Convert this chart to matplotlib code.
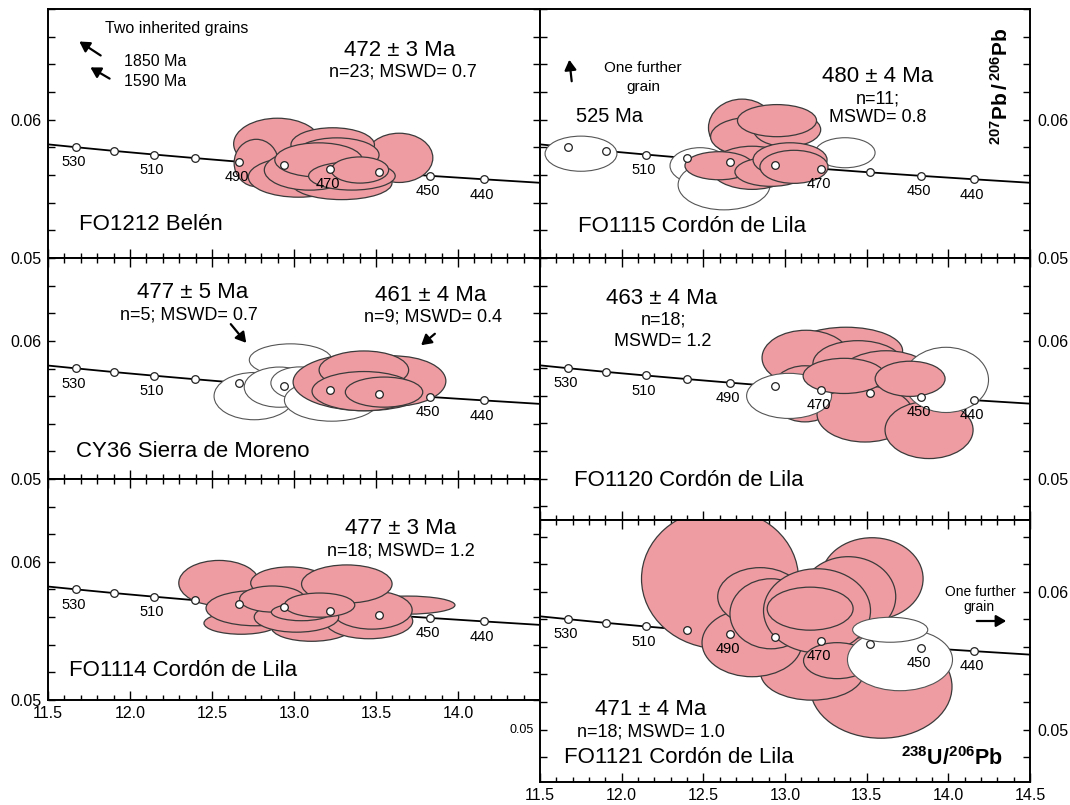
import matplotlib
matplotlib.use("Agg")
from matplotlib import pyplot as plt
from matplotlib.patches import Ellipse, FancyArrowPatch
from matplotlib.ticker import MultipleLocator, FuncFormatter

plt.rcParams['font.family'] = ['Liberation Sans', 'DejaVu Sans']
plt.rcParams['mathtext.fontset'] = 'custom'
plt.rcParams['mathtext.rm'] = 'Liberation Sans'
plt.rcParams['mathtext.bf'] = 'Liberation Sans:bold'

# ------------------------------------------------------------------
# Concordia (ages in Ma, 238U/206Pb, 207Pb/206Pb)
# ------------------------------------------------------------------
conc_age = [540, 530, 520, 510, 500, 490, 480, 470, 460, 450, 440, 430, 420]
conc_x = [11.445, 11.670, 11.904, 12.147, 12.399, 12.662, 12.936, 13.222,
          13.520, 13.831, 14.157, 14.497, 14.854]
conc_y = [0.05828, 0.05801, 0.05774, 0.05748, 0.05722, 0.05696, 0.05670,
          0.05645, 0.05619, 0.05594, 0.05569, 0.05544, 0.05519]
dot_ages = [530, 520, 510, 500, 490, 480, 470, 460, 450, 440]

# ------------------------------------------------------------------
# Error ellipses per sample: centre x, centre y, width, height, kind
# kind: 'p' = used in the age (pink), 'w' = rejected (white); drawn in order
# ------------------------------------------------------------------
# FO1212 Belén
fo1212_x = [12.899, 13.641, 12.770, 13.028, 13.291, 13.095, 13.236, 13.261, 13.150, 13.353, 13.402]
fo1212_y = [0.05825, 0.05724, 0.05687, 0.05585, 0.05542, 0.05636, 0.05818, 0.05745, 0.05709, 0.05593, 0.05636]
fo1212_w = [0.534, 0.411, 0.270, 0.613, 0.613, 0.552, 0.509, 0.515, 0.534, 0.528, 0.350]
fo1212_h = [0.00371, 0.00356, 0.00342, 0.00291, 0.00240, 0.00291, 0.00247, 0.00247, 0.00247, 0.00204, 0.00189]
fo1212_k = ['p'] * 11
fo1212_lab = [530, 510, 490, 470, 450, 440]

# FO1115 Cordón de Lila
fo1115_x = [11.751, 12.480, 12.627, 13.368, 12.737, 12.799, 13.013, 12.951, 12.799, 12.596, 12.914, 13.031, 13.055]
fo1115_y = [0.05754, 0.05667, 0.05529, 0.05761, 0.05942, 0.05877, 0.05928, 0.05993, 0.05652, 0.05667, 0.05623, 0.05710, 0.05659]
fo1115_w = [0.440, 0.368, 0.563, 0.367, 0.411, 0.509, 0.411, 0.484, 0.509, 0.417, 0.441, 0.453, 0.417]
fo1115_h = [0.00254, 0.00261, 0.00362, 0.00217, 0.00413, 0.00283, 0.00246, 0.00232, 0.00312, 0.00203, 0.00210, 0.00246, 0.00239]
fo1115_k = ['w', 'w', 'w', 'w', 'p', 'p', 'p', 'p', 'p', 'p', 'p', 'p', 'p']
fo1115_lab = [510, 470, 450, 440]

# CY36 Sierra de Moreno
cy36_x = [12.979, 12.758, 12.911, 13.034, 13.230, 13.433, 13.610, 13.426, 13.426, 13.549]
cy36_y = [0.05862, 0.05600, 0.05665, 0.05695, 0.05571, 0.05702, 0.05709, 0.05789, 0.05636, 0.05629]
cy36_w = [0.503, 0.491, 0.429, 0.350, 0.577, 0.877, 0.632, 0.546, 0.632, 0.472]
cy36_h = [0.00233, 0.00342, 0.00291, 0.00233, 0.00305, 0.00415, 0.00364, 0.00276, 0.00284, 0.00218]
cy36_k = ['w', 'w', 'w', 'w', 'w', 'p', 'p', 'p', 'p', 'p']
cy36_lab = [530, 510, 450, 440]

# FO1120 Cordón de Lila
fo1120_x = [13.374, 13.129, 13.447, 13.619, 13.122, 13.490, 13.882, 13.025, 13.986, 13.362, 13.766]
fo1120_y = [0.05927, 0.05876, 0.05833, 0.05680, 0.05615, 0.05469, 0.05353, 0.05600, 0.05716, 0.05745, 0.05724]
fo1120_w = [0.692, 0.539, 0.552, 0.655, 0.428, 0.588, 0.539, 0.520, 0.520, 0.502, 0.428]
fo1120_h = [0.00342, 0.00400, 0.00335, 0.00495, 0.00407, 0.00407, 0.00415, 0.00327, 0.00473, 0.00255, 0.00255]
fo1120_k = ['p', 'p', 'p', 'p', 'p', 'p', 'p', 'w', 'w', 'p', 'p']
fo1120_lab = [530, 510, 490, 470, 450, 440]

# FO1114 Cordón de Lila
fo1114_x = [12.543, 12.678, 13.107, 13.457, 13.690, 13.475, 12.972, 13.322, 12.764, 13.015, 12.868, 13.046, 13.156]
fo1114_y = [0.05847, 0.05556, 0.05527, 0.05571, 0.05687, 0.05651, 0.05847, 0.05840, 0.05665, 0.05600, 0.05731, 0.05636, 0.05687]
fo1114_w = [0.491, 0.454, 0.491, 0.534, 0.583, 0.491, 0.472, 0.552, 0.601, 0.515, 0.399, 0.368, 0.429]
fo1114_h = [0.00327, 0.00160, 0.00204, 0.00255, 0.00131, 0.00276, 0.00233, 0.00276, 0.00255, 0.00218, 0.00189, 0.00124, 0.00175]
fo1114_k = ['p'] * 13
fo1114_lab = [530, 510, 450, 440]

# FO1121 Cordón de Lila
fo1121_x = [12.602, 13.533, 13.387, 13.588, 13.166, 12.798, 12.848, 12.914, 13.196, 13.319, 13.154, 13.704, 13.644]
fo1121_y = [0.06094, 0.06094, 0.05964, 0.05311, 0.05413, 0.05630, 0.05964, 0.05840, 0.05862, 0.05500, 0.05877, 0.05507, 0.05724]
fo1121_w = [0.961, 0.625, 0.582, 0.869, 0.631, 0.612, 0.520, 0.502, 0.655, 0.411, 0.526, 0.643, 0.460]
fo1121_h = [0.01015, 0.00595, 0.00580, 0.00747, 0.00399, 0.00493, 0.00421, 0.00508, 0.00609, 0.00261, 0.00312, 0.00450, 0.00181]
fo1121_k = ['p'] * 11 + ['w', 'w']
fo1121_lab = [530, 510, 490, 470, 450, 440]

PINK = '#ee9ba1'
W, H = 1070, 805


def fx(x):
    return x / W


def fy(y):
    return 1 - y / H


def make_axes(x0, y_top, y_bot, width):
    return fig.add_axes([fx(x0), fy(y_bot), width / W, (y_bot - y_top) / H])


def setup(ax, ylim, xlabels=False, right_labels=False, top_ticks=True, xmax_label=14.5):
    ax.set_xlim(11.5, 14.5)
    ax.set_ylim(ylim)
    ax.xaxis.set_major_locator(MultipleLocator(0.5))
    ax.xaxis.set_minor_locator(MultipleLocator(0.1))
    ax.yaxis.set_major_locator(MultipleLocator(0.01))
    ax.yaxis.set_minor_locator(MultipleLocator(0.002))
    ax.xaxis.set_major_formatter(FuncFormatter(lambda v, p: "%.1f" % v if v <= xmax_label + 1e-6 else ""))
    ax.yaxis.set_major_formatter(FuncFormatter(lambda v, p: "%.2f" % v))
    ax.tick_params(which='both', direction='in', left=True, right=True, bottom=True, top=top_ticks,
                   width=1.0, labelsize=11.5)
    ax.tick_params(axis='x', which='major', length=6.5, pad=4)
    ax.tick_params(axis='x', which='minor', length=3.5)
    ax.tick_params(axis='y', which='both', length=5, pad=5)
    ax.tick_params(labelbottom=xlabels, labelleft=not right_labels, labelright=right_labels)
    for s in ax.spines.values():
        s.set_linewidth(1.4)


def draw_panel(ax, ex, ey, ew, eh, ek, labels):
    ax.plot(conc_x, conc_y, color='black', lw=1.3, zorder=1)
    for i, (x, y, w, h, k) in enumerate(zip(ex, ey, ew, eh, ek)):
        if k == 'p':
            e = Ellipse((x, y), w, h, facecolor=PINK, edgecolor='#3a3a3a', lw=0.9, zorder=2 + i)
        else:
            e = Ellipse((x, y), w, h, facecolor='white', edgecolor='#555555', lw=0.8, zorder=2 + i)
        ax.add_patch(e)
    dx = [x for a, x in zip(conc_age, conc_x) if a in dot_ages]
    dy = [y for a, y in zip(conc_age, conc_y) if a in dot_ages]
    ax.plot(dx, dy, 'o', ms=5.5, mfc='white', mec='#222222', mew=0.9, zorder=50)
    for a, x, y in zip(conc_age, conc_x, conc_y):
        if a in labels:
            ax.annotate(str(a), (x, y), xytext=(-1.5, -11), textcoords='offset points',
                        ha='center', va='center', fontsize=10.5, zorder=51)


def txt(x, y, s, size, ha='center', **kw):
    fig.text(fx(x), fy(y), s, fontsize=size, ha=ha, va='center', zorder=60, **kw)


def arrow(x1, y1, x2, y2):
    fig.add_artist(FancyArrowPatch(
        (fx(x1), fy(y1)), (fx(x2), fy(y2)), transform=fig.transFigure,
        arrowstyle='-|>,head_length=6,head_width=3.5', color='black', lw=1.6, zorder=60))


fig = plt.figure(figsize=(10.7, 8.05), dpi=100)

XL = 48
XR = 540
ax_tl = make_axes(XL, 9, 258, 492)
ax_ml = make_axes(XL, 258, 479, 492)
ax_bl = make_axes(XL, 479, 700, 492)
ax_tr = make_axes(XR, 9, 258, 490)
ax_mr = make_axes(XR, 258, 520, 490)
ax_br = make_axes(XR, 520, 782, 490)

setup(ax_tl, (0.05, 0.068), top_ticks=False)
setup(ax_ml, (0.05, 0.066))
setup(ax_bl, (0.05, 0.066), xlabels=True, xmax_label=14.0)
setup(ax_tr, (0.05, 0.068), right_labels=True, top_ticks=False)
setup(ax_mr, (0.047, 0.066), right_labels=True)
setup(ax_br, (0.0462, 0.0652), xlabels=True, right_labels=True)

draw_panel(ax_tl, fo1212_x, fo1212_y, fo1212_w, fo1212_h, fo1212_k, fo1212_lab)
draw_panel(ax_tr, fo1115_x, fo1115_y, fo1115_w, fo1115_h, fo1115_k, fo1115_lab)
draw_panel(ax_ml, cy36_x, cy36_y, cy36_w, cy36_h, cy36_k, cy36_lab)
draw_panel(ax_mr, fo1120_x, fo1120_y, fo1120_w, fo1120_h, fo1120_k, fo1120_lab)
draw_panel(ax_bl, fo1114_x, fo1114_y, fo1114_w, fo1114_h, fo1114_k, fo1114_lab)
draw_panel(ax_br, fo1121_x, fo1121_y, fo1121_w, fo1121_h, fo1121_k, fo1121_lab)

# ---- FO1212 Belén
txt(177, 28, "Two inherited grains", 11.5)
txt(124, 61, "1850 Ma", 11.5, ha='left')
txt(124, 82, "1590 Ma", 11.5, ha='left')
arrow(103, 57, 77, 40)
arrow(112, 80, 88, 66)
txt(400, 50, "472 ± 3 Ma", 16)
txt(403, 72, "n=23; MSWD= 0.7", 13)
txt(79, 225, "FO1212 Belén", 16, ha='left')

# ---- FO1115
arrow(572, 84, 569, 57)
txt(643, 68, "One further", 11)
txt(643, 87, "grain", 11)
txt(610, 117, "525 Ma", 14.5)
txt(878, 76, "480 ± 4 Ma", 16)
txt(878, 99, "n=11;", 13)
txt(878, 118, "MSWD= 0.8", 13)
txt(578, 226, "FO1115 Cordón de Lila", 16, ha='left')
txt(1001, 86, r"$\mathbf{^{207}Pb\,/\,^{206}Pb}$", 15, rotation=90)

# ---- CY36
txt(193, 292, "477 ± 5 Ma", 16)
txt(189, 315, "n=5; MSWD= 0.7", 13)
arrow(229, 322, 248, 345)
txt(431, 295, "461 ± 4 Ma", 16)
txt(433, 317, "n=9; MSWD= 0.4", 13)
arrow(437, 332, 419, 347)
txt(76, 451, "CY36 Sierra de Moreno", 16, ha='left')

# ---- FO1120
txt(662, 298, "463 ± 4 Ma", 16)
txt(663, 320, "n=18;", 13)
txt(663, 341, "MSWD= 1.2", 13)
txt(574, 480, "FO1120 Cordón de Lila", 16, ha='left')

# ---- FO1114
txt(401, 528, "477 ± 3 Ma", 16)
txt(401, 551, "n=18; MSWD= 1.2", 13)
txt(69, 670, "FO1114 Cordón de Lila", 16, ha='left')

# ---- FO1121
txt(651, 709, "471 ± 4 Ma", 16)
txt(651, 732, "n=18; MSWD= 1.0", 13)
txt(564, 757, "FO1121 Cordón de Lila", 16, ha='left')
txt(952, 759, r"$\mathbf{^{238}U/^{206}Pb}$", 15.5)
txt(980, 592, "One further", 10)
txt(979, 607, "grain", 10)
arrow(974, 621, 1009, 621)
txt(522, 730, "0.05", 9)

fig.savefig("out.png", dpi=100)
